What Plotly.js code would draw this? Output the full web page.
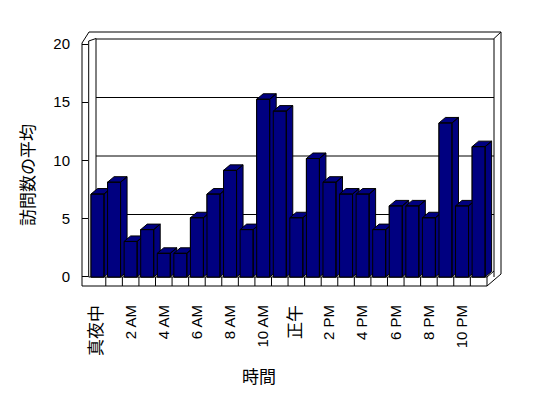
<!DOCTYPE html>
<html>
<head>
<meta charset="utf-8">
<script src="https://cdn.plot.ly/plotly-3.0.1.min.js"></script>
<style>html,body{margin:0;padding:0;background:#fff;}#chart{width:548px;height:398px;}</style>
</head>
<body>
<div id="chart"></div>
<script>
// ---- data ----
const categories = ['真夜中','1 AM','2 AM','3 AM','4 AM','5 AM','6 AM','7 AM','8 AM','9 AM','10 AM','11 AM',
                    '正午','1 PM','2 PM','3 PM','4 PM','5 PM','6 PM','7 PM','8 PM','9 PM','10 PM','11 PM'];
const visits = [7, 8, 3, 4, 2, 2, 5, 7, 9, 4, 15, 14, 5, 10, 8, 7, 7, 4, 6, 6, 5, 13, 6, 11];
const yTickValues = [0, 5, 10, 15, 20];
const gridValues = [5, 10, 15, 20];
const xTitle = '時間';
const yTitle = '訪問数の平均';

// ---- geometry / styling ----
const W = 548, H = 398;
const L = 82, R = 501, T = 32, B = 286;          // plot area in px
const PW = R - L, PH = B - T;
const pitch = 16.57, x0px = 97.5;                 // category pitch & first centre (px)
const yZero = 277, yUnit = 11.85;                 // main y scale (px)
const lblZero = 276.5, lblUnit = 11.625;          // tick-label scale (px)
const barW = 0.785;
const dX = 6.5 / pitch, dY = 5.5 / yUnit;         // 3-D depth offsets in data units
const navy = '#000080';
const cjk = '"Noto Sans CJK JP", sans-serif';
const latin = '"Liberation Sans", "Noto Sans CJK JP", sans-serif';

const px2paperX = p => (p - L) / PW;
const px2paperY = p => (B - p) / PH;
const backY = v => 273 - 11.7 * v;                // back-wall grid (perspective) in px

const xRange = [(L - x0px) / pitch, (R - x0px) / pitch];
const yRange = [-(B - yZero) / yUnit, (yZero - T) / yUnit];
const y2Range = [-(B - lblZero) / lblUnit, (lblZero - T) / lblUnit];

const idx = categories.map((_, i) => i);

const traces = [];
traces.push({
  type: 'bar', x: idx, y: visits, width: barW,
  marker: {color: navy, line: {color: '#000', width: 1}},
  hoverinfo: 'skip', showlegend: false
});
// 3-D faces for each bar, drawn left to right so the next bar hides the previous side
visits.forEach((v, i) => {
  const xl = i - barW / 2, xr = i + barW / 2;
  const xs = [xl, xl, xr, xr, xl, null,
              xl, xl + dX, xr + dX, xr, xl, null,
              xr, xr, xr + dX, xr + dX, xr];
  const ys = [0, v, v, 0, 0, null,
              v, v + dY, v + dY, v, v, null,
              0, v, v + dY, dY, 0];
  traces.push({
    type: 'scatter', mode: 'lines', x: xs, y: ys, fill: 'toself',
    fillcolor: navy, line: {color: '#000', width: 1}, connectgaps: false,
    hoverinfo: 'skip', showlegend: false
  });
});
// carrier for the tick-label axis
traces.push({type: 'scatter', x: [null], y: [null], yaxis: 'y2', mode: 'markers',
             hoverinfo: 'skip', showlegend: false});

// ---- frame shapes ----
const shapes = [];
function seg(x1, y1, x2, y2) {
  shapes.push({type: 'line', xref: 'paper', yref: 'paper', layer: 'below',
    x0: px2paperX(x1), y0: px2paperY(y1), x1: px2paperX(x2), y1: px2paperY(y2),
    line: {color: '#000', width: 1}});
}
// grid lines on the back wall
gridValues.forEach(g => seg(96, backY(g), 494, backY(g)));
// outer frame
seg(82, 43, 82, 286);
seg(82, 43, 89, 32);
seg(89, 32, 501, 32);
seg(501, 32, 501, 274);
seg(501, 274, 487, 286);
seg(82, 286, 487, 286);
// inner edges
seg(88.7, 41, 88.7, 277);
seg(88.7, 41, 96, 38.5);
seg(96, 38.5, 96, 277);
seg(494, 38.5, 501, 32);
seg(494, 38.5, 494, 277);
seg(88.7, 277, 487, 277);
seg(487, 277, 487, 286);
seg(487, 277, 494, 271);
// floor ticks between categories
for (let k = 0; k < categories.length - 1; k++) {
  shapes.push({type: 'line', xref: 'x', yref: 'paper', layer: 'below',
    x0: k + 0.5, x1: k + 0.5, y0: px2paperY(277), y1: px2paperY(286),
    line: {color: '#000', width: 1}});
}

const tickVals = idx.filter(i => i % 2 === 0);
const tickText = tickVals.map(i => /[^\x00-\x7F]/.test(categories[i])
  ? '<span style="font-size:17px;font-family:Noto Sans CJK JP;fill:#000;color:#000">' + categories[i] + '</span>'
  : categories[i]);

const layout = {
  width: W, height: H,
  margin: {l: L, r: W - R, t: T, b: H - B, pad: 0},
  paper_bgcolor: '#fff', plot_bgcolor: 'rgba(0,0,0,0)',
  showlegend: false,
  xaxis: {
    range: xRange, showgrid: false, zeroline: false, showline: false,
    tickmode: 'array', tickvals: tickVals, ticktext: tickText,
    tickangle: -90, ticks: '', ticklabelstandoff: 15,
    tickfont: {family: latin, size: 15, color: '#000'}, fixedrange: true
  },
  yaxis: {
    range: yRange, showgrid: false, zeroline: false, showline: false,
    showticklabels: false, ticks: '', fixedrange: true
  },
  yaxis2: {
    overlaying: 'y', side: 'left', anchor: 'x', range: y2Range,
    showgrid: false, zeroline: false, showline: false,
    tickmode: 'array', tickvals: yTickValues,
    ticks: 'inside', ticklen: 6, tickcolor: '#000', tickwidth: 1,
    ticklabelstandoff: 11,
    tickfont: {family: latin, size: 15, color: '#000'}, fixedrange: true
  },
  shapes: shapes,
  annotations: [
    {text: xTitle, xref: 'paper', yref: 'paper', x: px2paperX(259), y: px2paperY(375),
     showarrow: false, xanchor: 'center', yanchor: 'middle',
     font: {family: cjk, size: 17, color: '#000'}},
    {text: yTitle, xref: 'paper', yref: 'paper', x: px2paperX(26), y: px2paperY(175),
     showarrow: false, textangle: -90, xanchor: 'center', yanchor: 'middle',
     font: {family: cjk, size: 17, color: '#000'}}
  ]
};

Plotly.newPlot('chart', traces, layout, {staticPlot: true, displayModeBar: false});
</script>
</body>
</html>
